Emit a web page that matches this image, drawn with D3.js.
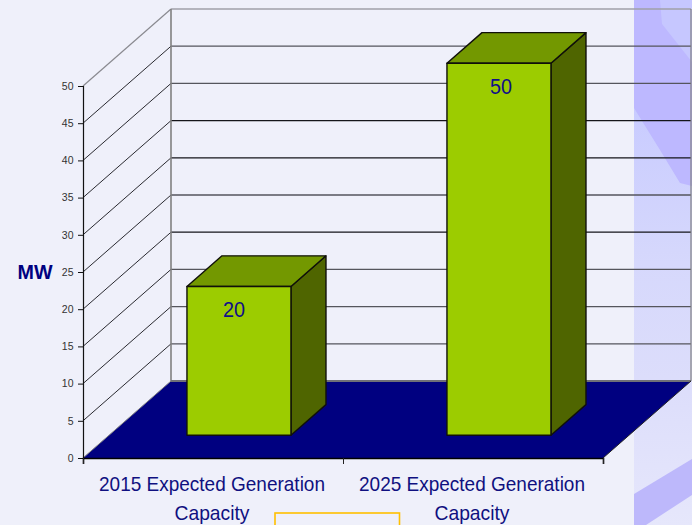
<!DOCTYPE html>
<html><head><meta charset="utf-8">
<script src="https://cdn.jsdelivr.net/npm/d3@7"></script>
<style>html,body{margin:0;padding:0;background:#eff0fa;overflow:hidden}svg{display:block}text{font-family:"Liberation Sans",Arial,sans-serif}</style>
</head><body><svg id="c" width="692" height="525"></svg>
<script>
const categories = ["2015 Expected Generation Capacity", "2025 Expected Generation Capacity"];
const categoryLines = [["2015 Expected Generation", "Capacity"], ["2025 Expected Generation", "Capacity"]];
const seriesValues = [20, 50];
const yTicks = [0, 5, 10, 15, 20, 25, 30, 35, 40, 45, 50];
const axisTitle = "MW";

const svg = d3.select("#c");
const navy = "#000080";

// decorative right-hand band
const grad = svg.append("defs").append("linearGradient").attr("id", "bandGrad")
  .attr("x1", 0).attr("y1", 0).attr("x2", 0).attr("y2", 1);
[[0.2, "#c8cbff"], [0.5, "#d6d8fc"], [0.72, "#dcddfb"], [1, "#e6e7fb"]].forEach(([o, c]) =>
  grad.append("stop").attr("offset", o).attr("stop-color", c));
const bg = svg.append("g");
const band = (pts, fill) => bg.append("polygon").attr("points", pts).attr("fill", fill);
bg.append("rect").attr("x", 634).attr("y", 0).attr("width", 58).attr("height", 525).attr("fill", "url(#bandGrad)");
band("634,0 692,0 692,186 680,183 660,150 634,108", "#bdb8ff");
band("660,0 692,0 692,62 662,24", "#c6c7ff");
band("634,494 692,459 692,495 646,525 634,525", "#bdb8fb");

// scales
const fx = d3.scaleBand().domain(categories).range([83, 603]);
const y = d3.scaleLinear().domain([0, 50]).range([458, 86]);
const depth = {dx: 88, dy: -77};
const barZ = [0.295, 0.693];
const barFrac = 0.4;
const bw = fx.bandwidth() * barFrac;
const labelShift = [-5, 2];

const pt = (x, yy, z) => [x + depth.dx * z, yy + depth.dy * z];
const poly = (a) => a.map(p => p.join(",")).join(" ");

const xL = fx.range()[0], xR = fx.range()[1];
const y0 = y(0), yTop = y(50);

// floor
svg.append("polygon").attr("points", poly([pt(xL, y0, 0), pt(xR, y0, 0), pt(xR, y0, 1), pt(xL, y0, 1)])).attr("fill", navy);

// grid
const g = svg.append("g").attr("fill", "none");
yTicks.forEach(t => {
  if (t === 0) return;
  const top = t === 50;
  const a = pt(xL, y(t), 0), b = pt(xL, y(t), 1), c = pt(xR, y(t), 1);
  g.append("path").attr("d", d3.line()([a, b])).attr("stroke", top ? "#8a8a90" : "#2a2a30").attr("stroke-width", top ? 1.2 : 1);
  g.append("path").attr("d", d3.line()([b, c])).attr("stroke", top ? "#a0a0a8" : (t === 30 || t === 35 || t === 20 ? "#15151a" : "#55555c")).attr("stroke-width", top ? 1.5 : 1.3);
});
// back wall edges and floor back edge
g.append("path").attr("d", d3.line()([pt(xL, y0, 1), pt(xL, yTop, 1)])).attr("stroke", "#808080").attr("stroke-width", 1.6);
g.append("path").attr("d", d3.line()([pt(xR, y0, 1), pt(xR, yTop, 1)])).attr("stroke", "#808080").attr("stroke-width", 1.2);
g.append("path").attr("d", d3.line()([pt(xL, y0, 1), pt(xR, y0, 1)])).attr("stroke", "#707078").attr("stroke-width", 2);
g.append("path").attr("d", d3.line()([pt(xL, y0, 0), pt(xL, y0, 1)])).attr("stroke", "#808080").attr("stroke-width", 1);
g.append("path").attr("d", d3.line()([pt(xR, y0, 0), pt(xR, y0, 1)])).attr("stroke", "#222").attr("stroke-width", 1);

// bars
const bars = svg.append("g").attr("stroke", "#10100a").attr("stroke-width", 1.4).attr("stroke-linejoin", "round");
seriesValues.forEach((v, i) => {
  const c = categories[i];
  const x0 = fx(c) + (fx.bandwidth() - bw) / 2, x1 = x0 + bw;
  const yb = y(0), yt = y(v);
  const [z0, z1] = barZ;
  bars.append("polygon").attr("fill", "#4f6500").attr("points", poly([pt(x1, yb, z0), pt(x1, yb, z1), pt(x1, yt, z1), pt(x1, yt, z0)]));
  bars.append("polygon").attr("fill", "#739800").attr("points", poly([pt(x0, yt, z0), pt(x1, yt, z0), pt(x1, yt, z1), pt(x0, yt, z1)]));
  bars.append("polygon").attr("fill", "#9ccc00").attr("points", poly([pt(x0, yb, z0), pt(x1, yb, z0), pt(x1, yt, z0), pt(x0, yt, z0)]));
  const [lx, ly] = pt((x0 + x1) / 2, yt, z0);
  svg.append("text").attr("x", lx + labelShift[i]).attr("y", ly + 31).attr("text-anchor", "middle")
    .attr("font-size", 21.5).attr("fill", "#101088").attr("textLength", 22).attr("lengthAdjust", "spacingAndGlyphs").text(v);
});

// y axis
const yAxis = d3.axisLeft(y).tickValues(yTicks).tickSize(5).tickPadding(4.5);
const ya = svg.append("g").attr("transform", `translate(${xL},0)`).call(yAxis);
ya.selectAll("path.domain").attr("stroke", "#111").attr("stroke-width", 1.2);
ya.selectAll(".tick line").attr("stroke", "#111");
ya.selectAll("text").attr("font-size", 10.5).attr("fill", "#333").attr("style", 'font-family:"Liberation Sans"');

// x axis
const xScaleTicks = d3.scalePoint().domain([0, 1, 2]).range([xL, xR]);
const xa = svg.append("g").attr("transform", `translate(0,${y0})`)
  .call(d3.axisBottom(xScaleTicks).tickSize(6).tickFormat(""));
xa.selectAll("path.domain").attr("stroke", "#000").attr("stroke-width", 1.6);
xa.selectAll(".tick line").attr("stroke", "#222");
xa.selectAll("text").remove();

// category labels
categories.forEach((c, i) => {
  const cx = fx(c) + fx.bandwidth() / 2 - 1;
  categoryLines[i].forEach((t, j) => {
    svg.append("text").attr("x", cx).attr("y", 491 + j * 29).attr("text-anchor", "middle")
      .attr("font-size", 21).attr("fill", "#101080").attr("textLength", j === 0 ? 226 : 75).attr("lengthAdjust", "spacingAndGlyphs").text(t);
  });
});

// axis title
svg.append("text").attr("x", 35).attr("y", 278.5).attr("text-anchor", "middle")
  .attr("font-size", 20).attr("font-weight", "bold").attr("fill", navy)
  .attr("textLength", 35).attr("lengthAdjust", "spacingAndGlyphs").text(axisTitle);

// yellow box
svg.append("rect").attr("x", 275).attr("y", 513).attr("width", 124.5).attr("height", 30)
  .attr("fill", "none").attr("stroke", "#ffc000").attr("stroke-width", 1.6);
</script></body></html>
